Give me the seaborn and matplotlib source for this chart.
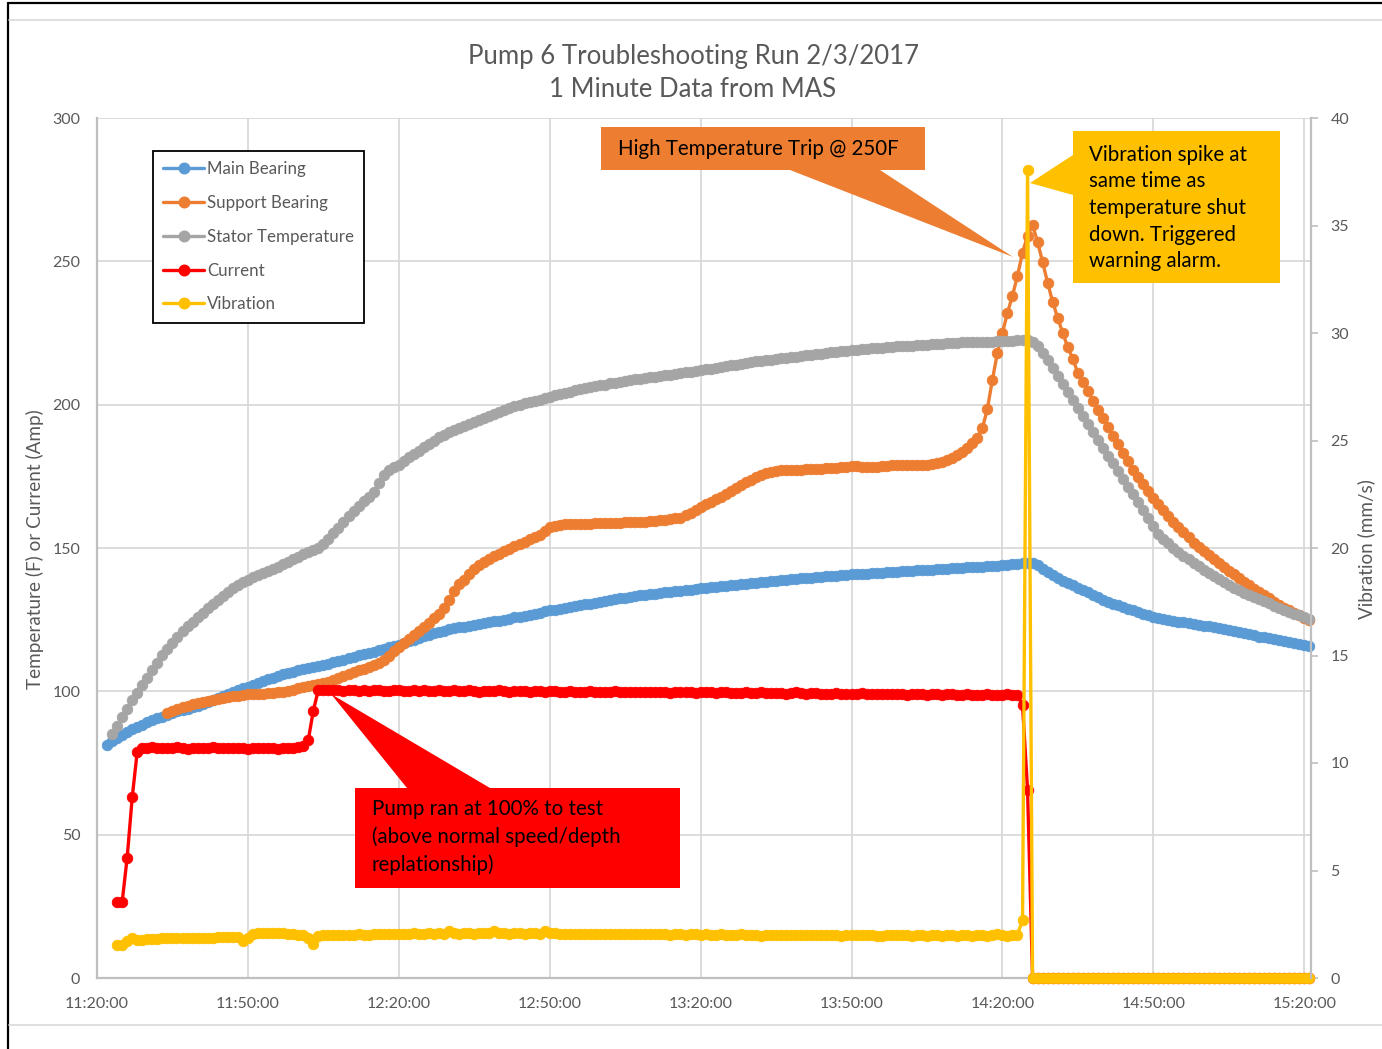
import numpy as np
import matplotlib
matplotlib.use("Agg")
import matplotlib.pyplot as plt
import seaborn as sns
from matplotlib.patches import Polygon
from matplotlib.lines import Line2D

# ---------------------------------------------------------------- data
# one-minute samples, time counted in minutes after 11:20:00
TIME_TICKS = [0, 30, 60, 90, 120, 150, 180, 210, 240]
TIME_LABELS = ["11:20:00", "11:50:00", "12:20:00", "12:50:00", "13:20:00",
               "13:50:00", "14:20:00", "14:50:00", "15:20:00"]

MAIN_START = 2  # 11:22
main_bearing = [
    81.3, 82.6, 83.8, 84.9, 85.9, 86.8, 87.6, 88.4, 89.2, 89.9,
    90.6, 91.2, 91.8, 92.4, 93.0, 93.5, 94.0, 94.5, 95.0, 95.6,
    96.3, 97.0, 97.7, 98.4, 99.1, 99.8, 100.4, 101.0, 101.6, 102.2,
    102.9, 103.6, 104.2, 104.8, 105.4, 105.9, 106.4, 106.9, 107.3, 107.7,
    108.1, 108.5, 108.9, 109.3, 109.7, 110.1, 110.6, 111.1, 111.6, 112.1,
    112.6, 113.0, 113.4, 113.8, 114.3, 114.8, 115.3, 115.8, 116.3, 116.8,
    117.4, 118.0, 118.6, 119.2, 119.8, 120.3, 120.8, 121.2, 121.6, 122.0,
    122.3, 122.6, 122.9, 123.2, 123.5, 123.8, 124.1, 124.4, 124.7, 125.0,
    125.4, 125.8, 126.1, 126.4, 126.7, 127.1, 127.5, 127.9, 128.2, 128.5,
    128.8, 129.1, 129.4, 129.7, 130.0, 130.3, 130.6, 130.9, 131.2, 131.5,
    131.8, 132.1, 132.4, 132.7, 133.0, 133.3, 133.5, 133.7, 133.9, 134.1,
    134.3, 134.5, 134.7, 134.9, 135.1, 135.3, 135.5, 135.7, 135.9, 136.1,
    136.3, 136.5, 136.7, 136.9, 137.0, 137.2, 137.4, 137.5, 137.7, 137.9,
    138.1, 138.2, 138.4, 138.6, 138.7, 138.9, 139.1, 139.2, 139.4, 139.6,
    139.7, 139.8, 140.0, 140.1, 140.2, 140.4, 140.5, 140.6, 140.8, 140.9,
    141.0, 141.1, 141.2, 141.3, 141.4, 141.5, 141.6, 141.7, 141.9, 142.0,
    142.1, 142.2, 142.3, 142.4, 142.5, 142.6, 142.7, 142.8, 142.9, 143.0,
    143.1, 143.2, 143.3, 143.4, 143.5, 143.6, 143.7, 143.8, 144.0, 144.1,
    144.3, 144.4, 144.6, 144.7, 144.8, 143.9, 142.8, 141.7, 140.6, 139.5,
    138.6, 137.8, 137.0, 136.2, 135.4, 134.5, 133.6, 132.8, 132.0, 131.3,
    130.6, 130.0, 129.4, 128.8, 128.2, 127.6, 127.0, 126.5, 126.0, 125.6,
    125.2, 124.9, 124.6, 124.3, 124.1, 123.8, 123.5, 123.2, 122.9, 122.7,
    122.4, 122.1, 121.8, 121.5, 121.1, 120.7, 120.3, 119.9, 119.5, 119.1,
    118.8, 118.5, 118.2, 117.9, 117.6, 117.3, 116.9, 116.5, 116.1, 115.8,
]

SUPPORT_START = 14  # 11:34
support_bearing = [
    92.5, 93.2, 93.8, 94.4, 95.0, 95.5, 96.0, 96.4, 96.8, 97.1,
    97.5, 97.8, 98.1, 98.3, 98.5, 98.7, 98.9, 99.0, 99.1, 99.2,
    99.3, 99.4, 99.6, 99.9, 100.2, 100.6, 101.0, 101.4, 101.7, 102.1,
    102.5, 102.9, 103.3, 103.9, 104.5, 105.2, 106.0, 106.7, 107.3, 107.9,
    108.5, 109.1, 109.8, 111.1, 112.5, 113.9, 115.3, 116.8, 118.2, 119.7,
    121.1, 122.6, 124.0, 125.5, 126.9, 129.0, 132.0, 135.0, 137.3, 139.0,
    141.0, 142.6, 143.9, 145.1, 146.3, 147.2, 148.0, 148.9, 149.8, 150.6,
    151.4, 152.2, 153.0, 153.7, 154.6, 155.8, 157.2, 157.8, 158.0, 158.2,
    158.3, 158.3, 158.4, 158.4, 158.5, 158.6, 158.6, 158.7, 158.7, 158.8,
    158.8, 158.9, 158.9, 159.0, 159.1, 159.2, 159.3, 159.4, 159.6, 159.8,
    160.0, 160.3, 160.6, 161.4, 162.3, 163.3, 164.3, 165.2, 166.1, 167.0,
    167.9, 169.0, 170.0, 171.0, 172.0, 172.9, 173.8, 174.6, 175.4, 176.0,
    176.5, 176.9, 177.2, 177.2, 177.2, 177.2, 177.3, 177.4, 177.5, 177.6,
    177.7, 177.8, 177.9, 178.0, 178.2, 178.4, 178.6, 178.5, 178.4, 178.3,
    178.3, 178.4, 178.5, 178.6, 178.8, 178.9, 179.0, 179.0, 178.9, 178.9,
    178.9, 178.9, 179.2, 179.6, 180.0, 180.7, 181.5, 182.5, 183.5, 185.0,
    186.5, 188.5, 191.7, 198.4, 208.6, 218.0, 225.0, 232.0, 238.0, 245.0,
    253.0, 259.0, 262.6, 256.7, 249.7, 242.4, 235.8, 230.2, 225.0, 220.0,
    216.0, 211.0, 207.8, 204.6, 201.4, 198.3, 195.3, 192.3, 189.2, 186.2,
    183.2, 180.2, 177.3, 174.6, 172.2, 169.8, 167.5, 165.3, 163.2, 161.2,
    159.2, 157.3, 155.5, 153.7, 151.9, 150.2, 148.8, 147.4, 146.0, 144.7,
    143.4, 142.1, 140.8, 139.5, 138.3, 137.0, 135.8, 134.6, 133.5, 132.4,
    131.2, 130.1, 129.2, 128.3, 127.5, 126.6, 125.7, 124.9,
]

STATOR_START = 3  # 11:23
stator_temperature = [
    85.0, 88.0, 91.0, 94.0, 96.9, 99.5, 102.2, 104.8, 107.4, 110.0,
    112.6, 114.8, 116.9, 119.0, 121.0, 122.7, 124.2, 125.8, 127.4, 128.9,
    130.4, 131.9, 133.3, 134.7, 136.0, 137.2, 138.1, 139.0, 139.9, 140.7,
    141.4, 142.1, 142.8, 143.5, 144.3, 145.2, 146.1, 147.0, 147.8, 148.6,
    149.4, 150.1, 151.5, 153.2, 155.1, 157.1, 159.1, 161.0, 162.8, 164.6,
    166.3, 167.9, 169.6, 172.6, 175.6, 177.3, 178.3, 179.1, 180.3, 181.6,
    182.8, 184.0, 185.2, 186.4, 187.5, 188.6, 189.4, 190.3, 191.2, 192.0,
    192.7, 193.4, 194.0, 194.7, 195.3, 196.0, 196.7, 197.3, 198.0, 198.7,
    199.4, 200.0, 200.5, 200.9, 201.4, 201.8, 202.3, 202.7, 203.2, 203.6,
    204.1, 204.5, 205.0, 205.4, 205.7, 206.0, 206.4, 206.7, 207.0, 207.4,
    207.7, 208.0, 208.3, 208.5, 208.8, 209.0, 209.3, 209.5, 209.8, 210.0,
    210.3, 210.5, 210.8, 211.0, 211.3, 211.5, 211.8, 212.0, 212.3, 212.6,
    212.9, 213.2, 213.5, 213.8, 214.0, 214.3, 214.6, 214.9, 215.1, 215.3,
    215.5, 215.7, 216.0, 216.2, 216.4, 216.6, 216.8, 217.0, 217.2, 217.4,
    217.6, 217.8, 218.0, 218.2, 218.4, 218.6, 218.8, 219.0, 219.1, 219.3,
    219.4, 219.6, 219.7, 219.8, 220.0, 220.1, 220.3, 220.4, 220.5, 220.6,
    220.7, 220.8, 220.9, 221.0, 221.1, 221.2, 221.4, 221.5, 221.6, 221.7,
    221.7, 221.8, 221.9, 221.9, 222.0, 222.0, 222.1, 222.2, 222.2, 222.3,
    222.4, 222.4, 222.5, 222.0, 220.3, 218.0, 215.5, 212.8, 210.0, 207.2,
    204.4, 201.6, 198.8, 196.0, 193.2, 190.4, 187.6, 184.9, 182.2, 179.5,
    176.8, 174.1, 171.4, 168.7, 166.0, 163.2, 160.4, 157.6, 155.0, 153.2,
    151.6, 150.0, 148.6, 147.3, 146.0, 144.8, 143.6, 142.5, 141.4, 140.3,
    139.2, 138.1, 137.1, 136.1, 135.2, 134.4, 133.6, 132.9, 132.2, 131.4,
    130.7, 129.9, 129.2, 128.5, 127.8, 127.1, 126.5, 125.8, 125.2,
]

CURRENT_START = 4  # 11:24
current = [
    26.5, 26.5, 42.0, 63.0, 79.0,
    80.4, 80.3, 80.5, 80.2, 80.4, 80.1, 80.3, 80.5, 80.2, 80.0,
    80.3, 80.4, 80.1, 80.2, 80.5, 80.3, 80.1, 80.2, 80.4, 80.3,
    80.1, 80.0, 80.2, 80.4, 80.1, 80.3, 80.2, 79.9, 80.1, 80.2,
    80.3, 80.6, 81.0, 83.0, 93.2,
    100.5, 100.6, 100.3, 100.5, 100.4, 100.2, 100.5, 100.3, 100.1, 100.4,
    100.2, 100.3, 100.5, 100.1, 100.2, 100.4, 100.3, 100.0, 100.2, 100.3,
    100.1, 100.4, 100.2, 100.0, 100.3, 100.1, 100.2, 100.4, 100.0, 100.1,
    100.3, 100.2, 99.9, 100.1, 100.2, 100.0, 100.3, 100.1, 99.9, 100.0,
    100.2, 100.1, 99.8, 100.0, 100.1, 99.9, 100.2, 100.0, 99.8, 99.9,
    100.1, 99.9, 99.7, 99.9, 100.0, 99.8, 99.9, 99.7, 99.8, 100.0,
    99.8, 99.6, 99.8, 99.9, 99.7, 99.8, 99.6, 99.7, 99.9, 99.7,
    99.5, 99.7, 99.8, 99.6, 99.7, 99.5, 99.6, 99.8, 99.6, 99.4,
    99.6, 99.7, 99.5, 99.3, 99.5, 99.6, 99.4, 99.5, 99.7, 99.4,
    99.3, 99.5, 99.4, 99.2, 99.4, 99.6, 99.3, 99.1, 99.3, 99.4,
    99.2, 99.0, 99.2, 99.3, 99.1, 99.2, 99.0, 99.1, 99.3, 99.0,
    98.9, 99.1, 99.2, 99.0, 98.9, 99.1, 99.0, 98.8, 99.0, 99.1,
    98.9, 98.8, 99.0, 98.9, 98.7, 98.9, 99.0, 98.8, 98.7, 98.9,
    98.8, 98.6, 98.8, 98.9, 98.7, 98.6, 98.8, 98.9, 98.7, 98.6,
    95.2, 65.6,
    0.0, 0.0, 0.0, 0.0, 0.0, 0.0, 0.0, 0.0, 0.0, 0.0,
    0.0, 0.0, 0.0, 0.0, 0.0, 0.0, 0.0, 0.0, 0.0, 0.0,
    0.0, 0.0, 0.0, 0.0, 0.0, 0.0, 0.0, 0.0, 0.0, 0.0,
    0.0, 0.0, 0.0, 0.0, 0.0, 0.0, 0.0, 0.0, 0.0, 0.0,
    0.0, 0.0, 0.0, 0.0, 0.0, 0.0, 0.0, 0.0, 0.0, 0.0,
    0.0, 0.0, 0.0, 0.0, 0.0, 0.0,
]

VIBRATION_START = 4  # 11:24
vibration = [
    1.53, 1.55, 1.70, 1.85, 1.75, 1.78, 1.80, 1.82, 1.82, 1.84,
    1.84, 1.85, 1.85, 1.86, 1.86, 1.86, 1.87, 1.86, 1.87, 1.88,
    1.90, 1.92, 1.92, 1.93, 1.92, 1.70, 1.88, 2.05, 2.08, 2.08,
    2.08, 2.09, 2.07, 2.08, 2.06, 2.05, 2.02, 1.98, 1.85, 1.60,
    1.95, 2.00, 2.01, 2.00, 2.02, 2.01, 2.00, 2.02, 2.03, 2.01,
    2.02, 2.04, 2.05, 2.03, 2.04, 2.06, 2.05, 2.04, 2.06, 2.07,
    2.06, 2.05, 2.07, 2.06, 2.08, 2.06, 2.18, 2.07, 2.06, 2.08,
    2.07, 2.06, 2.08, 2.07, 2.10, 2.20, 2.08, 2.07, 2.06, 2.08,
    2.07, 2.06, 2.08, 2.07, 2.06, 2.18, 2.10, 2.08, 2.06, 2.05,
    2.06, 2.05, 2.04, 2.05, 2.06, 2.04, 2.05, 2.03, 2.04, 2.05,
    2.04, 2.03, 2.05, 2.04, 2.03, 2.04, 2.05, 2.03, 2.04, 2.03,
    2.02, 2.04, 2.03, 2.02, 2.03, 2.04, 2.02, 2.03, 2.02, 2.01,
    2.03, 2.02, 2.01, 2.02, 2.03, 2.01, 2.02, 2.00, 1.95, 2.01,
    2.02, 2.00, 2.01, 2.02, 2.00, 2.01, 1.98, 2.00, 2.01, 1.99,
    2.00, 2.01, 1.99, 2.00, 1.96, 2.00, 2.01, 1.99, 2.00, 1.98,
    1.99, 1.97, 1.95, 1.98, 2.00, 1.99, 1.98, 2.00, 1.97, 1.98,
    1.99, 1.97, 1.98, 2.00, 1.95, 1.98, 1.99, 1.97, 1.98, 1.99,
    1.97, 2.00, 1.98, 1.96, 1.98, 2.05, 2.00, 1.97, 1.98, 2.02,
    2.70, 37.60,
    0.0, 0.0, 0.0, 0.0, 0.0, 0.0, 0.0, 0.0, 0.0, 0.0,
    0.0, 0.0, 0.0, 0.0, 0.0, 0.0, 0.0, 0.0, 0.0, 0.0,
    0.0, 0.0, 0.0, 0.0, 0.0, 0.0, 0.0, 0.0, 0.0, 0.0,
    0.0, 0.0, 0.0, 0.0, 0.0, 0.0, 0.0, 0.0, 0.0, 0.0,
    0.0, 0.0, 0.0, 0.0, 0.0, 0.0, 0.0, 0.0, 0.0, 0.0,
    0.0, 0.0, 0.0, 0.0, 0.0, 0.0,
]

SERIES_NAMES = ["Main Bearing", "Support Bearing", "Stator Temperature",
                "Current", "Vibration"]
SERIES_COLORS = ["#5B9BD5", "#ED7D31", "#A5A5A5", "#FF0000", "#FFC000"]

TITLE = "Pump 6 Troubleshooting Run 2/3/2017\n1 Minute Data from MAS"
LEFT_LABEL = "Temperature (F) or Current (Amp)"
RIGHT_LABEL = "Vibration (mm/s)"
NOTE_TRIP = "High Temperature Trip @ 250F"
NOTE_SPIKE = ("Vibration spike at\nsame time as\ntemperature shut\n"
              "down. Triggered\nwarning alarm.")
NOTE_PUMP = ("Pump ran at 100% to test\n(above normal speed/depth\n"
             "replationship)")

# ---------------------------------------------------------------- style
sns.set_style("white")
plt.rcParams["font.family"] = ["Lato", "DejaVu Sans"]
TEXT_GRAY = "#595959"
AXIS_GRAY = "#BFBFBF"
GRID_GRAY = "#D9D9D9"

W, H = 1382, 1049
fig = plt.figure(figsize=(W / 100, H / 100), dpi=100)
fig.patch.set_facecolor("white")


def fx(x):
    return x / W


def fy(y):
    return 1 - y / H


ax = fig.add_axes([fx(97), fy(978), (1311 - 97) / W, (978 - 118) / H])
ax2 = ax.twinx()

MS = 7.6
LW = 2.4
line_kw = dict(marker="o", markersize=MS, markeredgewidth=0.6,
               linewidth=LW, clip_on=False, legend=False)

data = [
    (MAIN_START, main_bearing, ax),
    (SUPPORT_START, support_bearing, ax),
    (STATOR_START, stator_temperature, ax),
    (CURRENT_START, current, ax),
    (VIBRATION_START, vibration, ax2),
]
for (start, values, target), color in zip(data, SERIES_COLORS):
    minutes = start + np.arange(len(values))
    sns.lineplot(x=minutes, y=values, ax=target, color=color,
                 markeredgecolor=color, **line_kw)

# ---------------------------------------------------------------- axes
ax.set_xlim(0, 241.35)
ax.set_ylim(0, 300)
ax2.set_ylim(0, 40)
ax.set_xticks(TIME_TICKS)
ax.set_xticklabels(TIME_LABELS)
ax.set_yticks(range(0, 301, 50))
ax2.set_yticks(range(0, 41, 5))
ax.set_xlabel("")
ax.set_ylabel("")
ax2.set_ylabel("")

ax.grid(True, color=GRID_GRAY, linewidth=1.3)
ax.set_axisbelow(True)
ax2.grid(False)

for a in (ax, ax2):
    for side in ("top", "right", "left", "bottom"):
        a.spines[side].set_visible(False)
ax.spines["left"].set_visible(True)
ax.spines["bottom"].set_visible(True)
ax2.spines["right"].set_visible(True)
for sp in (ax.spines["left"], ax.spines["bottom"], ax2.spines["right"]):
    sp.set_color(AXIS_GRAY)
    sp.set_linewidth(1.6)

ax.tick_params(axis="y", length=0, pad=12, labelsize=11.5,
               labelcolor=TEXT_GRAY)
ax.tick_params(axis="x", length=0, pad=13.5, labelsize=11.5,
               labelcolor=TEXT_GRAY)
ax2.tick_params(axis="y", direction="out", length=5, width=1.2,
                color=AXIS_GRAY, pad=9, labelsize=11.5, labelcolor=TEXT_GRAY)

fig.text(fx(693), fy(73), TITLE, ha="center", va="center", fontsize=18.5,
         color=TEXT_GRAY, linespacing=1.4)
fig.text(fx(35), fy(549), LEFT_LABEL, rotation=90, ha="center", va="center",
         fontsize=13.6, color=TEXT_GRAY)
fig.text(fx(1366), fy(549), RIGHT_LABEL, rotation=90, ha="center",
         va="center", fontsize=13.6, color=TEXT_GRAY)

# ---------------------------------------------------------------- legend
handles = [Line2D([], [], color=c, marker="o", markersize=MS,
                  markeredgecolor=c, linewidth=LW) for c in SERIES_COLORS]
leg = ax2.legend(handles, SERIES_NAMES, loc="upper left",
                 bbox_to_anchor=(fx(153), fy(151)),
                 bbox_transform=fig.transFigure, borderaxespad=0,
                 fontsize=12.2, frameon=True, fancybox=False,
                 edgecolor="black", framealpha=1, borderpad=0.6,
                 labelspacing=1.05, handlelength=2.4, handletextpad=0.2)
leg.get_frame().set_linewidth(1.3)
for t in leg.get_texts():
    t.set_color(TEXT_GRAY)

# ---------------------------------------------------------------- callouts
def callout(points, color):
    poly = Polygon([(fx(x), fy(y)) for x, y in points], closed=True,
                   facecolor=color, edgecolor="none",
                   transform=fig.transFigure, zorder=5)
    fig.add_artist(poly)


NOTE_SIZE = 14.8
callout([(601, 127), (925, 127), (925, 170), (880, 170), (1013, 257),
         (790, 170), (601, 170)], SERIES_COLORS[1])
fig.text(fx(618), fy(149), NOTE_TRIP, ha="left", va="center",
         fontsize=NOTE_SIZE, color="black", zorder=6)

callout([(1073, 131), (1280, 131), (1280, 283), (1073, 283), (1073, 195),
         (1030, 183), (1073, 155)], SERIES_COLORS[4])
fig.text(fx(1089), fy(208), NOTE_SPIKE, ha="left", va="center",
         fontsize=NOTE_SIZE, color="black", linespacing=1.42, zorder=6)

callout([(355, 788), (407, 788), (331, 694), (490, 788), (680, 788),
         (680, 888), (355, 888)], SERIES_COLORS[3])
fig.text(fx(372), fy(837), NOTE_PUMP, ha="left", va="center",
         fontsize=NOTE_SIZE, color="black", linespacing=1.42, zorder=6)

# ---------------------------------------------------------------- frame
fig.add_artist(Line2D([fx(8), fx(8)], [fy(3), fy(H)], color="black",
                      linewidth=1.6, transform=fig.transFigure))
fig.add_artist(Line2D([fx(8), fx(W)], [fy(3), fy(3)], color="black",
                      linewidth=1.6, transform=fig.transFigure))
fig.add_artist(Line2D([fx(9), fx(W)], [fy(20), fy(20)], color=GRID_GRAY,
                      linewidth=1.2, transform=fig.transFigure))
fig.add_artist(Line2D([fx(9), fx(W)], [fy(1025), fy(1025)], color=GRID_GRAY,
                      linewidth=1.2, transform=fig.transFigure))

fig.savefig("out.png", dpi=100)
